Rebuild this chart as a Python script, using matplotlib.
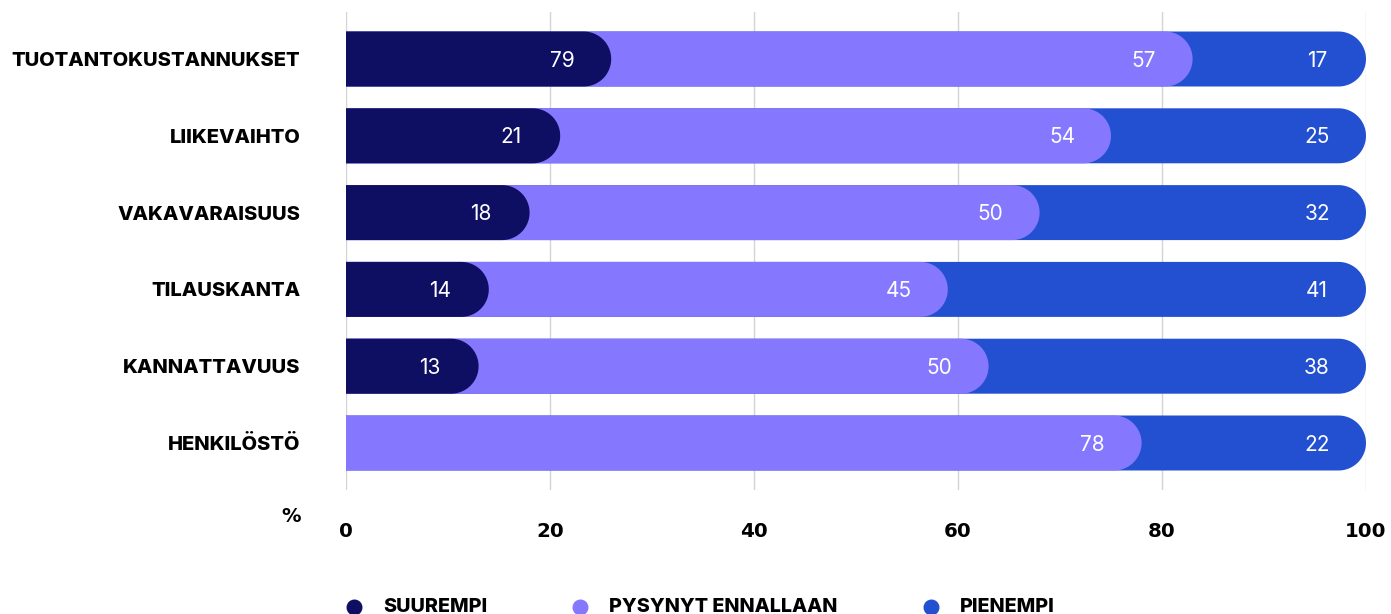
import numpy as np
import matplotlib.pyplot as plt
from matplotlib.path import Path
from matplotlib.patches import PathPatch
from matplotlib.lines import Line2D

categories = ['TUOTANTOKUSTANNUKSET', 'LIIKEVAIHTO', 'VAKAVARAISUUS',
              'TILAUSKANTA', 'KANNATTAVUUS', 'HENKILÖSTÖ']
suurempi = [26, 21, 18, 14, 13, 0]
pysynyt = [57, 54, 50, 45, 50, 78]
pienempi = [17, 25, 32, 41, 38, 22]
# printed value of the first SUUREMPI cell differs from its bar length
label_override = {(0, 0): '79'}

series_names = ['SUUREMPI', 'PYSYNYT ENNALLAAN', 'PIENEMPI']
colors = ['#0e0e62', '#8578fe', '#2250d0']
x_ticks = [0, 20, 40, 60, 80, 100]

plt.rcParams['font.family'] = ['Inter', 'DejaVu Sans']

W, H = 1391, 614
fig = plt.figure(figsize=(W / 100, H / 100), dpi=100)
ax_left, ax_right, ax_top, ax_bottom = 346, 1366, 12, 490
ax = fig.add_axes([ax_left / W, 1 - ax_bottom / H,
                   (ax_right - ax_left) / W, (ax_bottom - ax_top) / H])

n = len(categories)
ylim = (n - 1 + 0.612, -0.612)
ax.set_xlim(0, 100)
ax.set_ylim(*ylim)

bar_h = 0.716
px_x = (ax_right - ax_left) / 100.0
px_y = (ax_bottom - ax_top) / (ylim[0] - ylim[1])
rx = (bar_h / 2) * px_y / px_x  # cap radius in x data units


def rounded_bar(y, end, color):
    # square left edge at 0, half-ellipse cap on the right
    top, bot = y - bar_h / 2, y + bar_h / 2
    xc = end - rx
    t = np.linspace(np.pi / 2, -np.pi / 2, 40)
    cap_x = xc + rx * np.cos(t)
    cap_y = y - (bar_h / 2) * np.sin(t)
    verts = [(0, top)] + list(zip(cap_x, cap_y)) + [(0, bot), (0, top)]
    codes = [Path.MOVETO] + [Path.LINETO] * (len(verts) - 2) + [Path.CLOSEPOLY]
    ax.add_patch(PathPatch(Path(verts, codes), facecolor=color,
                           edgecolor='none', zorder=2))


data = np.array([suurempi, pysynyt, pienempi], dtype=float)
ends = np.minimum(np.cumsum(data, axis=0), 100)

for i in range(n):
    # draw back to front so each segment's cap overlaps the next one
    for s in range(2, -1, -1):
        if data[s, i] <= 0:
            continue
        rounded_bar(i, ends[s, i], colors[s])
    for s in range(3):
        v = data[s, i]
        if v <= 0:
            continue
        txt = label_override.get((i, s), f'{v:.0f}')
        ax.text(ends[s, i] - 4.8, i + 0.02, txt, ha='center', va='center',
                color='white', fontsize=15, zorder=3)

ax.set_xticks(x_ticks)
ax.set_xticklabels([str(t) for t in x_ticks], fontweight='bold', fontsize=14.3,
                   family='DejaVu Sans')
ax.set_yticks(range(n))
ax.set_yticklabels(categories, fontweight='heavy', fontsize=14.5)
ax.tick_params(axis='x', length=0, pad=23)
ax.tick_params(axis='y', length=0, pad=33)
ax.grid(axis='x', color='#d4d4d4', linewidth=1, zorder=0)
ax.set_axisbelow(True)
for sp in ax.spines.values():
    sp.set_visible(False)

fig.text(291 / W, 1 - 516 / H, '%', ha='center', va='center',
         fontweight='bold', fontsize=14, family='DejaVu Sans')

# legend row along the bottom edge
leg_y = 1 - 607 / H
marker_x = [354, 580, 931]
for name, col, mx in zip(series_names, colors, marker_x):
    fig.add_artist(Line2D([mx / W], [leg_y], marker='o', markersize=10.5,
                          color=col, linestyle='none', transform=fig.transFigure))
    fig.text((mx + 29) / W, leg_y, name, ha='left', va='center',
             fontweight='heavy', fontsize=14.2)

fig.savefig('out.png', dpi=100)
